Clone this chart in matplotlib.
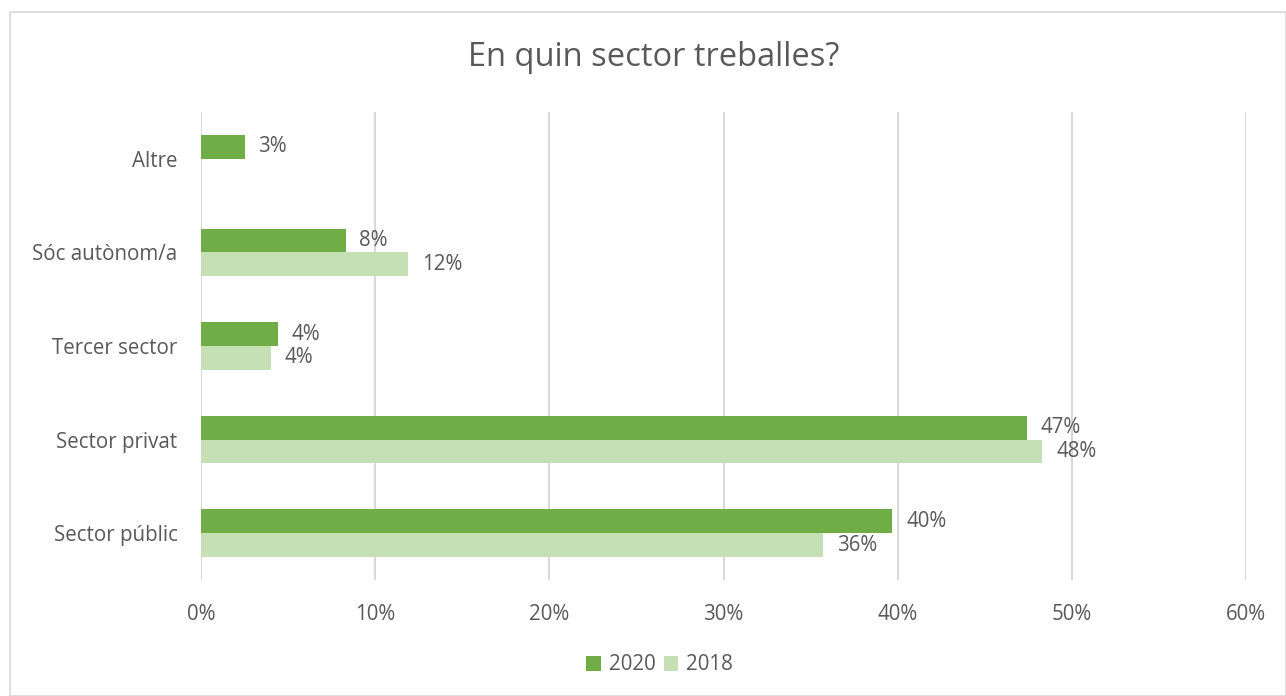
"""Horizontal grouped bar chart: En quin sector treballes?"""
import numpy as np
import matplotlib
matplotlib.use('Agg')
import matplotlib.pyplot as plt
from matplotlib.patches import Rectangle

categories = ["Sector públic", "Sector privat", "Tercer sector", "Sóc autònom/a", "Altre"]
values_2020 = [39.7, 47.4, 4.4, 8.3, 2.5]
values_2018 = [35.7, 48.3, 4.0, 11.9, np.nan]
labels_2020 = ["40%", "47%", "4%", "8%", "3%"]
labels_2018 = ["36%", "48%", "4%", "12%", ""]
series_names = ["2020", "2018"]
xticks = [0, 10, 20, 30, 40, 50, 60]

plt.rcParams['font.family'] = ['Open Sans', 'DejaVu Sans']
text_color = "#595959"
dark_green = "#70AD47"
light_green = "#C5E0B4"
fs = 14.8

fig = plt.figure(figsize=(12.86, 6.96), dpi=100)
# light border around the chart
fig.patches.append(Rectangle((10 / 1286, 0), 1 - 10 / 1286, 1 - 12 / 696,
                             transform=fig.transFigure, fill=False,
                             edgecolor="#D9D9D9", linewidth=1.2))

ax = fig.add_axes([201 / 1286, 1 - 580 / 696, 1045 / 1286, 468 / 696])
y = np.arange(len(categories))
h = 0.255
ax.barh(y + h / 2, values_2020, height=h, color=dark_green, label=series_names[0], zorder=3)
ax.barh(y - h / 2, values_2018, height=h, color=light_green, label=series_names[1], zorder=3)

for i in range(len(categories)):
    ax.text(values_2020[i] + 0.8, y[i] + h / 2, labels_2020[i], va='center', ha='left',
            fontsize=fs, color=text_color)
    if labels_2018[i]:
        ax.text(values_2018[i] + 0.8, y[i] - h / 2, labels_2018[i], va='center', ha='left',
                fontsize=fs, color=text_color)

ax.set_xlim(0, 60)
ax.set_ylim(-0.5, len(categories) - 0.5)
ax.set_xticks(xticks)
ax.set_xticklabels([f"{t}%" for t in xticks])
ax.set_yticks(y)
ax.set_yticklabels(categories)
ax.tick_params(axis='both', length=0, labelsize=fs, labelcolor=text_color)
ax.tick_params(axis='x', pad=17)
ax.tick_params(axis='y', pad=17)
ax.grid(axis='x', color="#D9D9D9", linewidth=1.5, zorder=0)
for s in ax.spines.values():
    s.set_visible(False)

fig.text(0.5086, 1 - 58 / 696, "En quin sector treballes?", ha='center', va='center',
         fontsize=23.5, color=text_color)

fig.legend(loc='center', bbox_to_anchor=(0.513, 1 - 665 / 696), ncol=2, frameon=False,
           fontsize=fs, labelcolor=text_color, handlelength=0.7, handleheight=0.7,
           handletextpad=0.4, columnspacing=0.4)

fig.savefig('out.png', dpi=100)
